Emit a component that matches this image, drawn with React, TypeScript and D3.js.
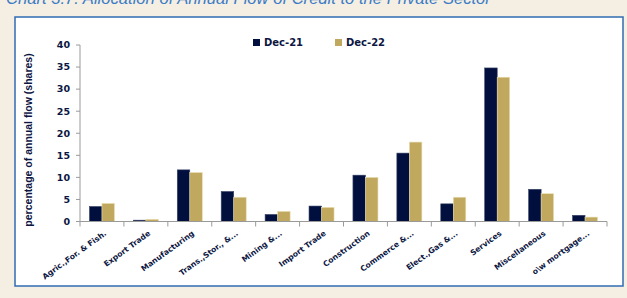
import { useMemo } from 'react'
import * as d3 from 'd3'

const categories = [
  'Agric.,For. & Fish.',
  'Export Trade',
  'Manufacturing',
  'Trans.,Stor., &...',
  'Mining &...',
  'Import Trade',
  'Construction',
  'Commerce &...',
  'Elect.,Gas &...',
  'Services',
  'Miscellaneous',
  'o\\w mortgage...',
]
const dec21 = [3.4, 0.3, 11.7, 6.8, 1.6, 3.5, 10.5, 15.5, 4.0, 34.8, 7.3, 1.4]
const dec22 = [4.1, 0.5, 11.1, 5.5, 2.3, 3.2, 10.0, 18.0, 5.5, 32.7, 6.3, 1.0]
const seriesNames = ['Dec-21', 'Dec-22']
const yTicks = [0, 5, 10, 15, 20, 25, 30, 35, 40]

const W = 627
const H = 298
const navy = '#000f3d'
const gold = '#c1a85f'
const textCol = '#0c1642'
const font = 'DejaVu Sans, Verdana, sans-serif'

export default function App() {
  const { x0, x1, y } = useMemo(() => {
    const x0 = d3.scaleBand<string>().domain(categories).range([80, 607]).padding(0)
    const x1 = d3
      .scaleBand<string>()
      .domain(seriesNames)
      .range([0, x0.bandwidth()])
      .paddingInner(0)
      .paddingOuter(0.755)
    const y = d3.scaleLinear().domain([0, 40]).range([221.5, 45])
    return { x0, x1, y }
  }, [])

  const values = [dec21, dec22]
  const fills = [navy, gold]
  const strokes = ['#3a4468', '#eadfb4']

  return (
    <svg
      width={W}
      height={H}
      style={{ position: 'absolute', left: 0, top: 0, background: '#f4eee3' }}
    >
      {/* caption, mostly cut off at the top */}
      <text x={6} y={4} fontFamily="Liberation Sans, Arial, sans-serif" fontStyle="italic" fontSize={16.6} fill="#3d7cc4">
        Chart 3.7: Allocation of Annual Flow of Credit to the Private Sector
      </text>

      <rect x={15} y={17} width={608} height={269} fill="#fff" stroke="#2f6cb3" strokeWidth={1.5} />

      {/* legend */}
      {seriesNames.map((s, i) => (
        <g key={s} transform={`translate(${253 + i * 82},39)`}>
          <rect width={7} height={7} fill={fills[i]} />
          <text x={11} y={7} fontFamily={font} fontWeight="bold" fontSize={10} fill={textCol}>
            {s}
          </text>
        </g>
      ))}

      {/* y axis */}
      <line x1={80} x2={80} y1={y(40)} y2={y(0)} stroke="#9a9a9a" />
      {yTicks.map((t) => (
        <g key={t}>
          <line x1={76} x2={80} y1={y(t)} y2={y(t)} stroke="#9a9a9a" />
          <text
            x={70}
            y={y(t)}
            dy="0.35em"
            textAnchor="end"
            fontFamily={font}
            fontWeight="bold"
            fontSize={9.5}
            fill={textCol}
          >
            {t}
          </text>
        </g>
      ))}
      <text
        transform={`translate(32,140) rotate(-90)`}
        textAnchor="middle"
        fontFamily="Liberation Sans, Arial, sans-serif"
        fontWeight="bold"
        fontSize={10.5}
        fill={textCol}
      >
        percentage of annual flow (shares)
      </text>

      {/* bars */}
      {categories.map((c, ci) => (
        <g key={c} transform={`translate(${x0(c)},0)`}>
          {seriesNames.map((s, si) => (
            <rect
              key={s}
              x={x1(s)}
              y={y(values[si][ci])}
              width={x1.bandwidth()}
              height={y(0) - y(values[si][ci])}
              fill={fills[si]}
              stroke={strokes[si]}
              strokeWidth={0.6}
            />
          ))}
        </g>
      ))}

      {/* x axis */}
      <line x1={80} x2={607} y1={y(0)} y2={y(0)} stroke="#9a9a9a" />
      {categories.concat(['']).map((c, i) => {
        const xx = 80 + i * x0.step()
        return <line key={i} x1={xx} x2={xx} y1={y(0)} y2={y(0) + 5} stroke="#9a9a9a" />
      })}
      {categories.map((c) => {
        const cx = (x0(c) ?? 0) + x0.bandwidth() / 2
        return (
          <text
            key={c}
            transform={`translate(${cx + 5},${y(0) + 13}) rotate(-36)`}
            textAnchor="end"
            fontFamily={font}
            fontWeight="bold"
            fontSize={7.7}
            fill={textCol}
          >
            {c}
          </text>
        )
      })}
    </svg>
  )
}
